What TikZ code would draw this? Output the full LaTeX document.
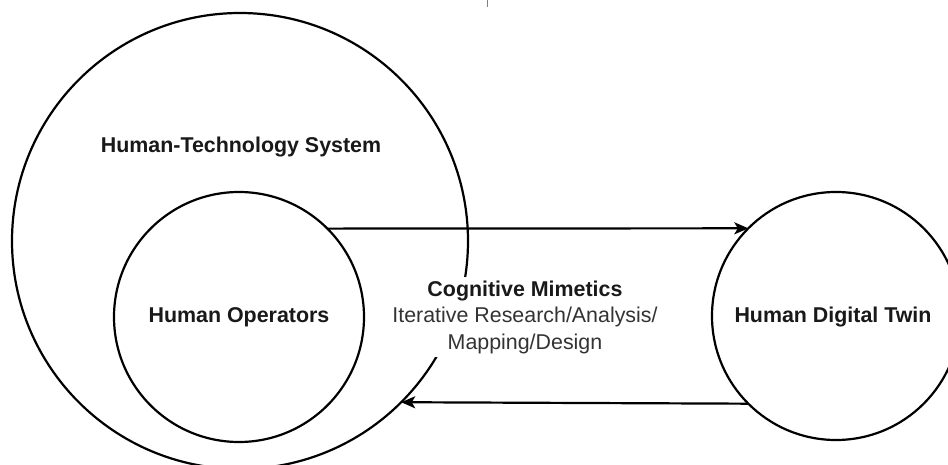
\documentclass[tikz,border=0pt]{standalone}
\usepackage{fontspec}
\setmainfont{Liberation Sans}
\usetikzlibrary{arrows.meta}
\tikzset{
  ring/.style={circle, draw=black, line width=2.2pt, inner sep=0pt, outer sep=0pt},
  boldlabel/.style={font=\fontsize{21.4}{26.5}\selectfont\bfseries, text=black!90},
  flow/.style={line width=2.2pt, -{Stealth[length=14pt,width=12pt,inset=3.5pt]}},
}
\begin{document}
\begin{tikzpicture}[x=1pt,y=-1pt]
\useasboundingbox[fill=white] (0,0) rectangle (948,465);
\node[ring, minimum size=456pt] (hts) at (240,241) {};
\node[boldlabel] (htslabel) at (241,147) {Human-Technology System};
\node[ring, minimum size=250pt] (ho) at (239,317) {};
\node[boldlabel] (holabel) at (ho.center) {Human Operators};
\node[ring, minimum size=248pt] (hdt) at (836,316) {};
\node[boldlabel] (hdtlabel) at (833,317) {Human Digital Twin};
\draw[flow] (ho.45) -- (hdt.135);
\draw[flow] (hdt.-135) -- (hts.-45.5);
\node[fill=white, inner sep=4pt, align=center, font=\fontsize{21.4}{26.5}\selectfont, text=black!80] (cm) at (525,317)
  {{\bfseries\color{black!90}Cognitive Mimetics}\\Iterative Research/Analysis/\\Mapping/Design};
\coordinate (tick) at (487,0);
\draw[gray, line width=0.8pt] (tick) -- ++(0,7);
\end{tikzpicture}
\end{document}
